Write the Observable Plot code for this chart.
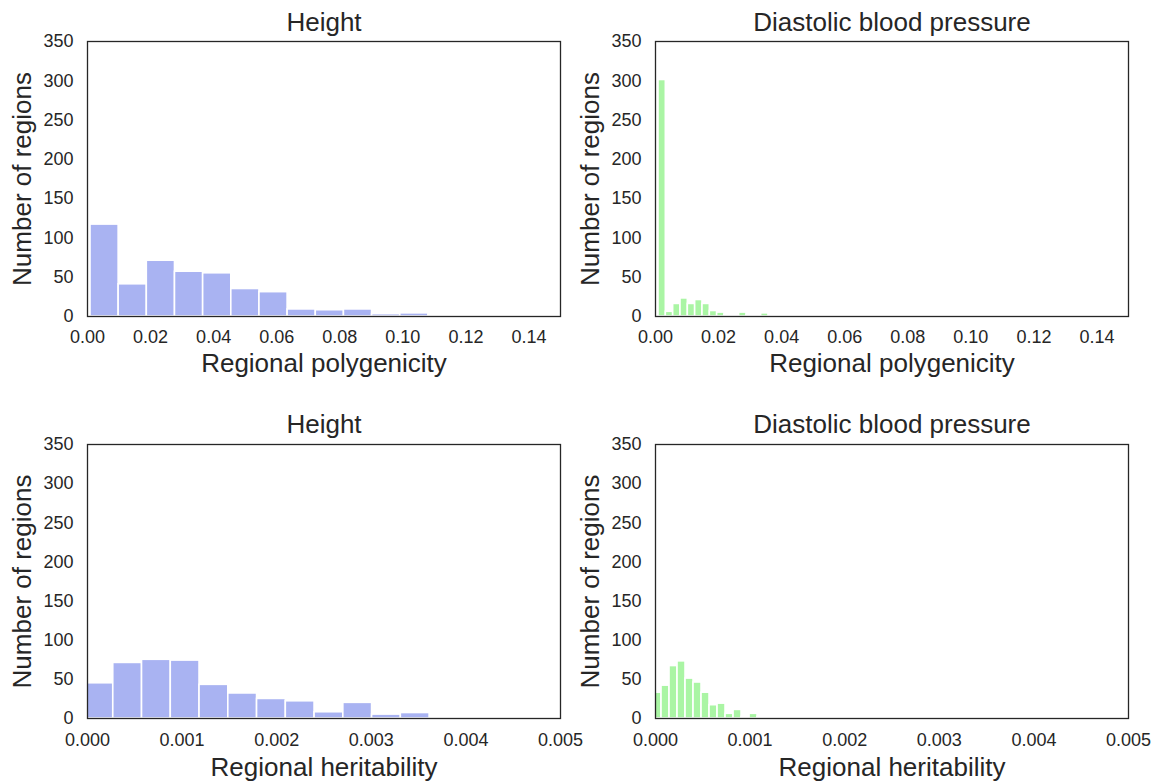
<!DOCTYPE html>
<html>
<head>
<meta charset="utf-8">
<script src="https://cdn.jsdelivr.net/npm/d3@7"></script>
<script src="https://cdn.jsdelivr.net/npm/@observablehq/plot@0.6"></script>
<style>
  html, body { margin: 0; padding: 0; background: #ffffff; }
  #chart { position: relative; width: 1156px; height: 783px; overflow: hidden; }
  #chart svg { position: absolute; overflow: visible; }
</style>
</head>
<body>
<div id="chart"></div>
<script>
// Histogram counts (number of regions per bin) and the bin layout of each panel
const heightPolyCounts = [117, 41, 71, 57, 55, 35, 31, 9, 8, 9, 3, 4, 1];
const heightPolyStart = 0.00095;
const heightPolyWidth = 0.00893;

const dbpPolyCounts = [301, 6, 16, 23, 16, 21, 16, 7, 5, 2, 2, 5, 1, 1, 4, 0, 1];
const dbpPolyStart = 0.00095;
const dbpPolyWidth = 0.002325;

const heightHerCounts = [45, 71, 75, 74, 43, 32, 25, 22, 8, 20, 5, 7, 0, 1, 1, 0, 1];
const heightHerStart = -0.0000317;
const heightHerWidth = 0.000304;

const dbpHerCounts = [33, 42, 67, 73, 51, 46, 33, 17, 19, 6, 11, 2, 6, 2];
const dbpHerStart = -0.000021;
const dbpHerWidth = 0.0000846;

// Axis ticks
const countTicks = [0, 50, 100, 150, 200, 250, 300, 350];
const polyTicks = [0, 0.02, 0.04, 0.06, 0.08, 0.10, 0.12, 0.14];
const herTicks = [0, 0.001, 0.002, 0.003, 0.004, 0.005];

const titles = ["Height", "Diastolic blood pressure"];
const xLabels = ["Regional polygenicity", "Regional heritability"];
const yLabel = "Number of regions";

const blue = "#a9b3f2";
const green = "#aaf5a4";
const ink = "#262626";

function bins(counts, start, width) {
  return counts.map((count, i) => ({x1: start + i * width, x2: start + (i + 1) * width, count}));
}

function panel({counts, start, width, color, xDomain, xTicks, xFormat, title, xLabel, layout}) {
  const svg = Plot.plot({
    width: 578,
    height: layout.height,
    marginLeft: layout.ml,
    marginRight: layout.mr,
    marginTop: layout.mt,
    marginBottom: layout.mb,
    style: {fontFamily: "'Liberation Sans', Arial, sans-serif", color: ink, background: "transparent"},
    x: {domain: xDomain},
    y: {domain: [0, 350]},
    marks: [
      Plot.rectY(bins(counts, start, width), {
        x1: "x1", x2: "x2", y: "count",
        fill: color, stroke: "white", strokeWidth: 1.6, clip: true
      }),
      Plot.frame({stroke: ink, strokeWidth: 1.3}),
      Plot.axisY({ticks: countTicks, tickSize: 0, tickPadding: 14, fontSize: 18, label: null}),
      Plot.axisX({ticks: xTicks, tickFormat: d3.format(xFormat), tickSize: 0, tickPadding: layout.xPad, fontSize: 18, label: null}),
      Plot.text([title], {frameAnchor: "top", lineAnchor: "middle", textAnchor: "middle", dy: layout.titleDy, fontSize: 26, fill: ink}),
      Plot.text([xLabel], {frameAnchor: "bottom", lineAnchor: "middle", textAnchor: "middle", dy: layout.xLabelDy, fontSize: 26, fill: ink}),
      Plot.text([yLabel], {frameAnchor: "left", lineAnchor: "middle", textAnchor: "middle", dx: -65, rotate: -90, fontSize: 26, fill: ink})
    ]
  });
  svg.style.left = layout.left + "px";
  svg.style.top = layout.top + "px";
  document.getElementById("chart").appendChild(svg);
}

const topRow = {top: 0, height: 392, mt: 41, mb: 76, xPad: 14, titleDy: -19, xLabelDy: 47};
const bottomRow = {top: 392, height: 391, mt: 52, mb: 65, xPad: 15, titleDy: -20, xLabelDy: 49};
const leftCol = {left: 0, ml: 87, mr: 18};
const rightCol = {left: 578, ml: 77, mr: 28};

panel({counts: heightPolyCounts, start: heightPolyStart, width: heightPolyWidth, color: blue,
  xDomain: [0, 0.15], xTicks: polyTicks, xFormat: ".2f", title: titles[0], xLabel: xLabels[0],
  layout: {...topRow, ...leftCol}});
panel({counts: dbpPolyCounts, start: dbpPolyStart, width: dbpPolyWidth, color: green,
  xDomain: [0, 0.15], xTicks: polyTicks, xFormat: ".2f", title: titles[1], xLabel: xLabels[0],
  layout: {...topRow, ...rightCol}});
panel({counts: heightHerCounts, start: heightHerStart, width: heightHerWidth, color: blue,
  xDomain: [0, 0.005], xTicks: herTicks, xFormat: ".3f", title: titles[0], xLabel: xLabels[1],
  layout: {...bottomRow, ...leftCol}});
panel({counts: dbpHerCounts, start: dbpHerStart, width: dbpHerWidth, color: green,
  xDomain: [0, 0.005], xTicks: herTicks, xFormat: ".3f", title: titles[1], xLabel: xLabels[1],
  layout: {...bottomRow, ...rightCol}});
</script>
</body>
</html>
